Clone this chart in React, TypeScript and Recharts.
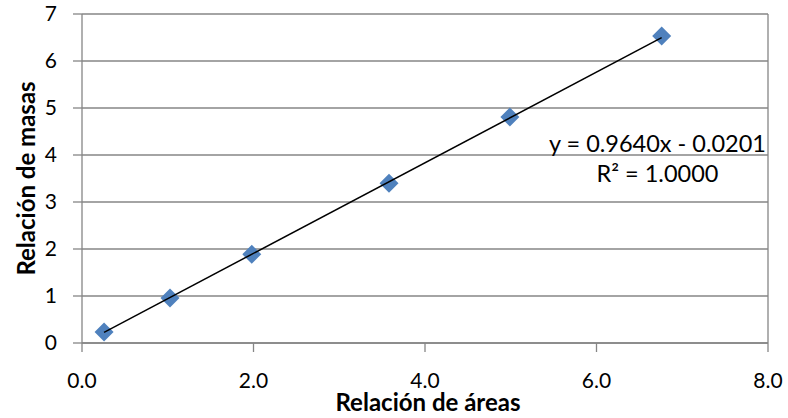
import { ScatterChart, Scatter, XAxis, YAxis, CartesianGrid, ReferenceLine, Label } from 'recharts'

// measured points (area ratio vs mass ratio)
const areaRatio = [0.257, 1.026, 1.98, 3.58, 4.99, 6.76]
const massRatio = [0.234, 0.957, 1.89, 3.40, 4.81, 6.53]

// linear fit shown on the chart
const slope = 0.964
const intercept = -0.0201
const equationText = 'y = 0.9640x - 0.0201'
const r2Text = 'R² = 1.0000'

const xTicks = [0, 2, 4, 6, 8]
const yTicks = [0, 1, 2, 3, 4, 5, 6, 7]

const points = areaRatio.map((x, i) => ({ x, y: massRatio[i] }))
const xMin = Math.min(...areaRatio)
const xMax = Math.max(...areaRatio)
const trend = [xMin, xMax].map(x => ({ x, y: slope * x + intercept }))

const AXIS = '#868686'
const FONT = 'Lato, "Open Sans", sans-serif'

function Diamond(props: any) {
  const { cx, cy } = props
  const r = 9.5
  return (
    <path
      d={`M${cx},${cy - r} L${cx + r},${cy} L${cx},${cy + r} L${cx - r},${cy} Z`}
      fill="#4f81bd"
    />
  )
}

export default function App() {
  return (
    <div style={{ position: 'absolute', left: 0, top: 0, width: 788, height: 418, background: '#fff', fontFamily: FONT }}>
      <ScatterChart width={788} height={418} margin={{ top: 14, right: 20, bottom: 25, left: 22 }}>
        <CartesianGrid horizontal vertical={false} stroke={AXIS} strokeWidth={1.3} />
        <XAxis
          type="number"
          dataKey="x"
          domain={[0, 8]}
          ticks={xTicks}
          tickFormatter={(v: number) => v.toFixed(1)}
          height={50}
          tickSize={9}
          tickMargin={21}
          stroke={AXIS}
          strokeWidth={1.3}
          tick={{ fill: '#000', fontSize: 21, fontFamily: FONT }}
        >
          <Label
            value="Relación de áreas"
            position="bottom"
            offset={1}
            dx={3}
            style={{ fontWeight: 700, fontSize: 24, fill: '#000', fontFamily: FONT }}
          />
        </XAxis>
        <YAxis
          type="number"
          dataKey="y"
          domain={[0, 7]}
          ticks={yTicks}
          width={60}
          tickSize={9}
          tickMargin={16}
          stroke={AXIS}
          strokeWidth={1.3}
          tick={{ fill: '#000', fontSize: 21, fontFamily: FONT }}
        >
          <Label
            value="Relación de masas"
            angle={-90}
            position="left"
            offset={-2}
            dx={2}
            style={{ fontWeight: 700, fontSize: 24, fill: '#000', fontFamily: FONT, textAnchor: 'middle' }}
          />
        </YAxis>
        <ReferenceLine x={8} stroke={AXIS} strokeWidth={1.3} />
        <Scatter data={points} shape={<Diamond />} isAnimationActive={false} />
        <Scatter
          data={trend}
          line={{ stroke: '#000', strokeWidth: 1.5 }}
          shape={() => <g />}
          isAnimationActive={false}
        />
      </ScatterChart>
      <div style={{ position: 'absolute', right: 22, top: 128, fontSize: 23.5, lineHeight: '30px', textAlign: 'center' }}>
        <div>{equationText}</div>
        <div>{r2Text}</div>
      </div>
    </div>
  )
}
